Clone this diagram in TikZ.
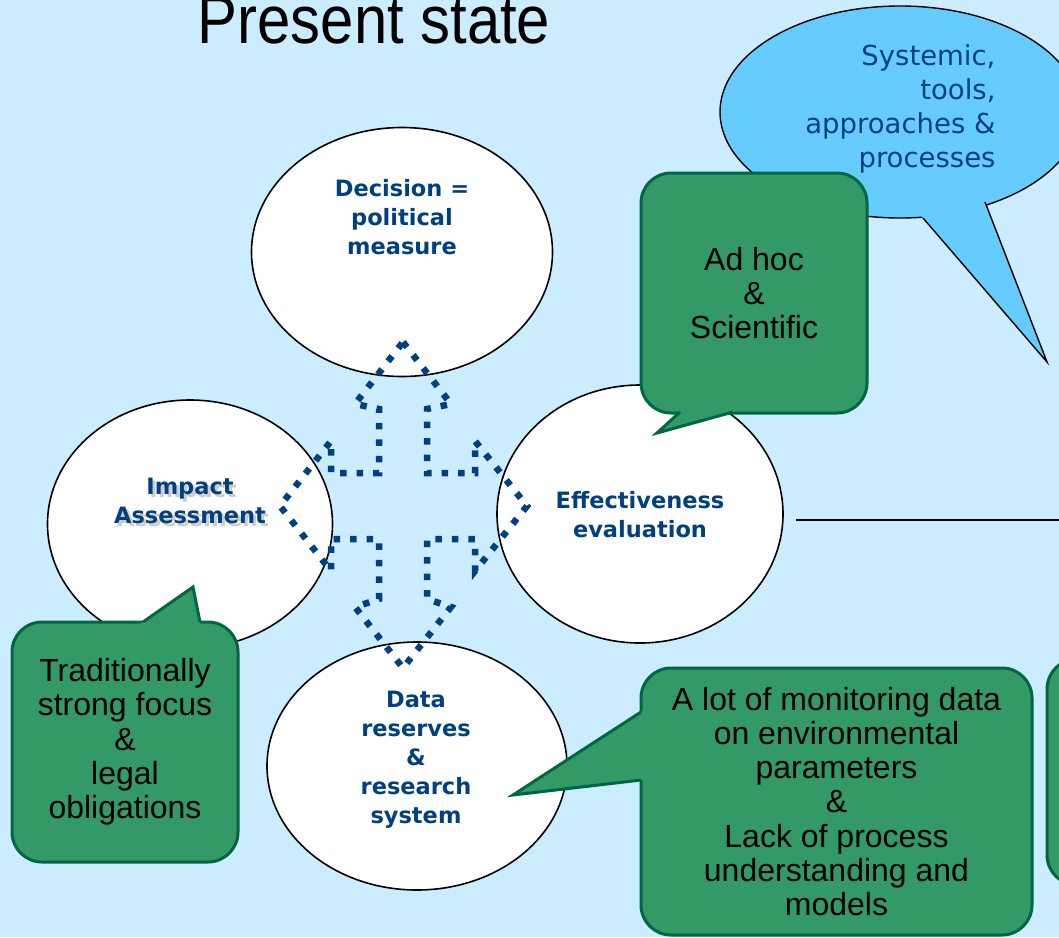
\documentclass[tikz,border=0pt]{standalone}
\usepackage{fontspec}
\setmainfont{Liberation Sans}
\newfontfamily\verdana{DejaVu Sans}
\usetikzlibrary{shapes.geometric,calc}
\definecolor{bgblue}{RGB}{204,236,255}
\definecolor{skyblue}{RGB}{102,204,255}
\definecolor{navy}{RGB}{0,64,128}
\definecolor{callgreen}{RGB}{51,153,102}
\definecolor{darkgreen}{RGB}{0,102,68}

\begin{document}
\begin{tikzpicture}[x=1pt,y=-1pt,
  bubble/.style={ellipse,draw=black,line width=1.6pt,fill=white,inner sep=0pt},
  bubbletext/.style={align=center,text=navy,inner sep=0pt,font=\verdana\bfseries\fontsize{22.5}{29}\selectfont},
  greenbox/.style={rectangle,rounded corners=30pt,fill=callgreen,draw=darkgreen,line width=3pt,align=center,inner sep=0pt,font=\fontsize{32}{34.3}\selectfont},
  crossline/.style={navy,line width=6.5pt,dash pattern=on 6.5pt off 10pt}]
\useasboundingbox (0,0) rectangle (1059,937);
\fill[bgblue] (0,0) rectangle (1059,937);
\clip (0,0) rectangle (1059,937);

\node[anchor=base,font=\fontsize{68}{68}\selectfont,xscale=0.88] (title) at (374,43) {Present state};

% speech bubble top right
\node[ellipse,draw=black,line width=1.4pt,fill=skyblue,minimum width=360pt,minimum height=212pt,inner sep=0pt] (sky) at (900,112) {};
\coordinate (skytip) at (1047,362);
\coordinate (skyb1) at (923,218);
\coordinate (skyb2) at (985,202);
\fill[skyblue] (skytip) -- ($(skytip)!1.12!(skyb1)$) -- ($(skytip)!1.12!(skyb2)$) -- cycle;
\draw[line width=1.4pt] (skyb1) -- (skytip) -- (skyb2);
\node[align=right,anchor=east,text=navy,font=\verdana\fontsize{27.5}{34}\selectfont] (skytext) at (999,109) {Systemic,\\tools,\\approaches \&\\processes};

% the four circles
\node[bubble,minimum width=301pt,minimum height=249pt] (dec) at (402,252) {};
\node[bubble,minimum width=285pt,minimum height=248pt] (imp) at (190,524) {};
\node[bubble,minimum width=286pt,minimum height=258pt] (eff) at (640,514) {};
\node[bubble,minimum width=300pt,minimum height=248pt] (dat) at (417,766) {};

\node[bubbletext] (dectext) at (402,217) {Decision =\\political\\measure};
\node[bubbletext,text=gray!40] (impshadow) at (193,504) {Impact\\Assessment};
\node[bubbletext] (imptext) at (190,501) {Impact\\Assessment};
\node[bubbletext] (efftext) at (640,515) {Effectiveness\\evaluation};
\node[bubbletext] (dattext) at (416,760) {Data\\reserves\\\&\\research\\system};

\coordinate (linel) at (796,520);
\coordinate (liner) at (1062,520);
\draw[line width=1.6pt] (linel) -- (liner);

% dotted four-way arrow
\begin{scope}[shift={(403,506)}]
\draw[crossline] (0,-164) -- (48,-102) -- (24,-97) -- (24,-33) -- (72,-33) -- (72,-65)
  -- (124,0) -- (72,65) -- (72,33) -- (24,33) -- (24,93) -- (48,101) -- (0,162)
  -- (-48,101) -- (-24,93) -- (-24,33) -- (-72,33) -- (-72,65) -- (-123,0)
  -- (-72,-65) -- (-72,-33) -- (-24,-33) -- (-24,-97) -- (-48,-102) -- cycle;
\end{scope}

% green callouts
\node[greenbox,minimum width=226pt,minimum height=240pt] (adhoc) at (754,293) {Ad hoc\\\&\\Scientific};
\coordinate (adtip) at (657,433);
\coordinate (adb1) at (680,412);
\coordinate (adb2) at (733,412);
\fill[callgreen] (adtip) -- ($(adtip)!1.3!(adb1)$) -- ($(adtip)!1.3!(adb2)$) -- cycle;
\draw[darkgreen,line width=3pt] (adb1) -- (adtip) -- (adb2);

\node[greenbox,minimum width=226pt,minimum height=240pt] (trad) at (125,742) {Traditionally\\strong focus\\\&\\legal\\obligations};
\coordinate (trtip) at (193,587);
\coordinate (trb1) at (143,622);
\coordinate (trb2) at (200,622);
\fill[callgreen] (trtip) -- ($(trtip)!1.2!(trb1)$) -- ($(trtip)!1.2!(trb2)$) -- cycle;
\draw[darkgreen,line width=3pt] (trb1) -- (trtip) -- (trb2);

\node[greenbox,minimum width=391pt,minimum height=267pt] (mon) at (836.5,801.5) {A lot of monitoring data\\on environmental\\parameters\\\&\\Lack of process\\understanding and\\models};
\coordinate (motip) at (513,795);
\coordinate (mob1) at (641,712);
\coordinate (mob2) at (641,780);
\fill[callgreen] (motip) -- ($(motip)!1.06!(mob1)$) -- ($(motip)!1.06!(mob2)$) -- cycle;
\draw[darkgreen,line width=3pt] (mob1) -- (motip) -- (mob2);

\node[greenbox,minimum width=226pt,minimum height=226pt] (cut) at (1160,772) {};

\end{tikzpicture}
\end{document}
